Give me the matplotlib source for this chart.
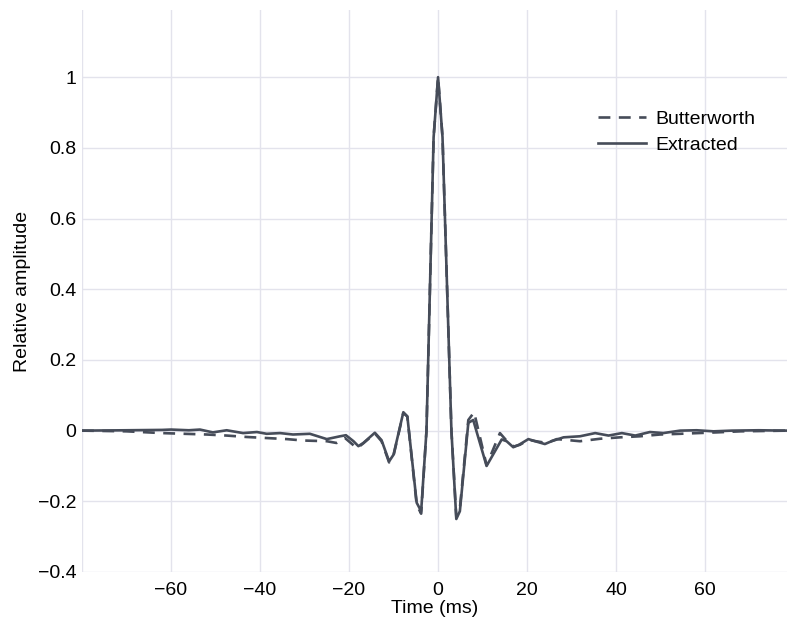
import matplotlib
matplotlib.use("Agg")
import matplotlib.pyplot as plt
import numpy as np

# ------------------------------------------------------------
# Wavelet samples (time in ms, amplitude normalised to peak)
# ------------------------------------------------------------

extracted_t = [-80, -70, -62, -60, -56, -53.5, -50.6, -47.5, -43.8, -40.7,
               -38.5, -35.5, -32.6, -28.8, -25.0, -22.0, -20.7, -19.0, -17.9,
               -16.8, -14.2, -12.7, -11.0, -10.0, -7.8, -6.9, -4.8, -3.8,
               -2.6, -1.0, 0.0, 1.0, 3.0, 4.1, 4.9, 6.8, 7.9, 10.9, 14.3,
               15.4, 16.9, 18.2, 20.3, 21.8, 24.0, 25.5, 28.2, 31.9, 35.3,
               38.3, 41.3, 44.3, 47.6, 50.6, 54.4, 58.1, 61.9, 66.0, 72.0, 78.4]
extracted_v = [0.0, 0.001, 0.002, 0.003, 0.001, 0.003, -0.005, 0.001, -0.007, -0.004,
               -0.009, -0.007, -0.011, -0.009, -0.024, -0.016, -0.013, -0.030, -0.044,
               -0.035, -0.006, -0.027, -0.087, -0.068, 0.052, 0.040, -0.204, -0.228,
               0.0, 0.83, 1.0, 0.83, 0.0, -0.250, -0.228, 0.022, 0.030, -0.100, -0.025,
               -0.030, -0.047, -0.040, -0.024, -0.030, -0.038, -0.030, -0.019, -0.016, -0.007,
               -0.014, -0.007, -0.014, -0.004, -0.007, 0.0, 0.001, -0.002, 0.0, 0.001, 0.0]

butter_t = [-80, -70, -62, -57, -52, -47.5, -43, -38.5, -34, -30.3, -25.0,
            -22.8, -20.9, -18.2, -16.8, -14.2, -12.7, -11.0, -10.0, -7.8, -6.9,
            -4.8, -3.8, -2.6, -1.0, 0.0, 1.0, 3.0, 4.1, 4.9, 6.8, 8.1, 10.9,
            13.9, 15.5, 17.0, 18.4, 20.3, 22.0, 24.4, 26.7, 31.9, 36.4, 40.9,
            45.4, 49.9, 54.4, 58.4, 62.6, 68.0, 78.4]
butter_v = [0.0, -0.002, -0.007, -0.009, -0.011, -0.014, -0.018, -0.021, -0.024, -0.028, -0.030,
            -0.035, -0.021, -0.050, -0.036, -0.008, -0.030, -0.090, -0.070, 0.050, 0.040,
            -0.210, -0.235, 0.0, 0.83, 1.0, 0.83, 0.0, -0.245, -0.220, 0.030, 0.052, -0.098,
            -0.007, -0.030, -0.045, -0.040, -0.026, -0.030, -0.035, -0.024, -0.030, -0.023, -0.019,
            -0.016, -0.011, -0.009, -0.007, -0.005, -0.002, 0.0]

x_ticks = [-60, -40, -20, 0, 20, 40, 60]
y_ticks = [-0.4, -0.2, 0, 0.2, 0.4, 0.6, 0.8, 1]

LINE = "#464c59"
GRID = "#e3e3ec"

plt.rcParams["font.family"] = ["Liberation Sans", "DejaVu Sans"]

fig = plt.figure(figsize=(7.87, 6.28), dpi=100, facecolor="white")
ax = fig.add_axes([82 / 787, 1 - 572 / 628, 1 - 82 / 787, (572 - 10) / 628])

ax.plot(butter_t, butter_v, color=LINE, lw=1.9, ls=(0, (4.5, 3.2)), label="Butterworth")
ax.plot(extracted_t, extracted_v, color=LINE, lw=1.9, label="Extracted")

ax.set_xlim(-80, 78.4)
ax.set_ylim(-0.4, 1.19)

# grid lines include the -80 edge line
ax.set_xticks([-80] + x_ticks)
ax.set_xticklabels([""] + ["\u2212%d" % -v if v < 0 else "%d" % v for v in x_ticks])
ax.set_yticks(y_ticks)
ax.set_yticklabels(["\u22120.4", "\u22120.2", "0", "0.2", "0.4", "0.6", "0.8", "1"])

ax.grid(True, color=GRID, lw=1.0)
ax.set_axisbelow(True)
for spine in ax.spines.values():
    spine.set_visible(False)
ax.tick_params(length=0, labelsize=14, colors="black")
ax.tick_params(axis="y", pad=4)
ax.tick_params(axis="x", pad=7)

ax.set_xlabel("Time (ms)", fontsize=14, labelpad=1)
ax.set_ylabel("Relative amplitude", fontsize=14, labelpad=5)

leg = ax.legend(loc="upper left", bbox_to_anchor=(598 / 787, 1 - 110 / 628),
                bbox_transform=fig.transFigure, frameon=False, fontsize=14,
                borderpad=0, borderaxespad=0, handlelength=2.45, handletextpad=0.5,
                labelspacing=0.45)

fig.savefig("out.png", dpi=100, facecolor="white")
